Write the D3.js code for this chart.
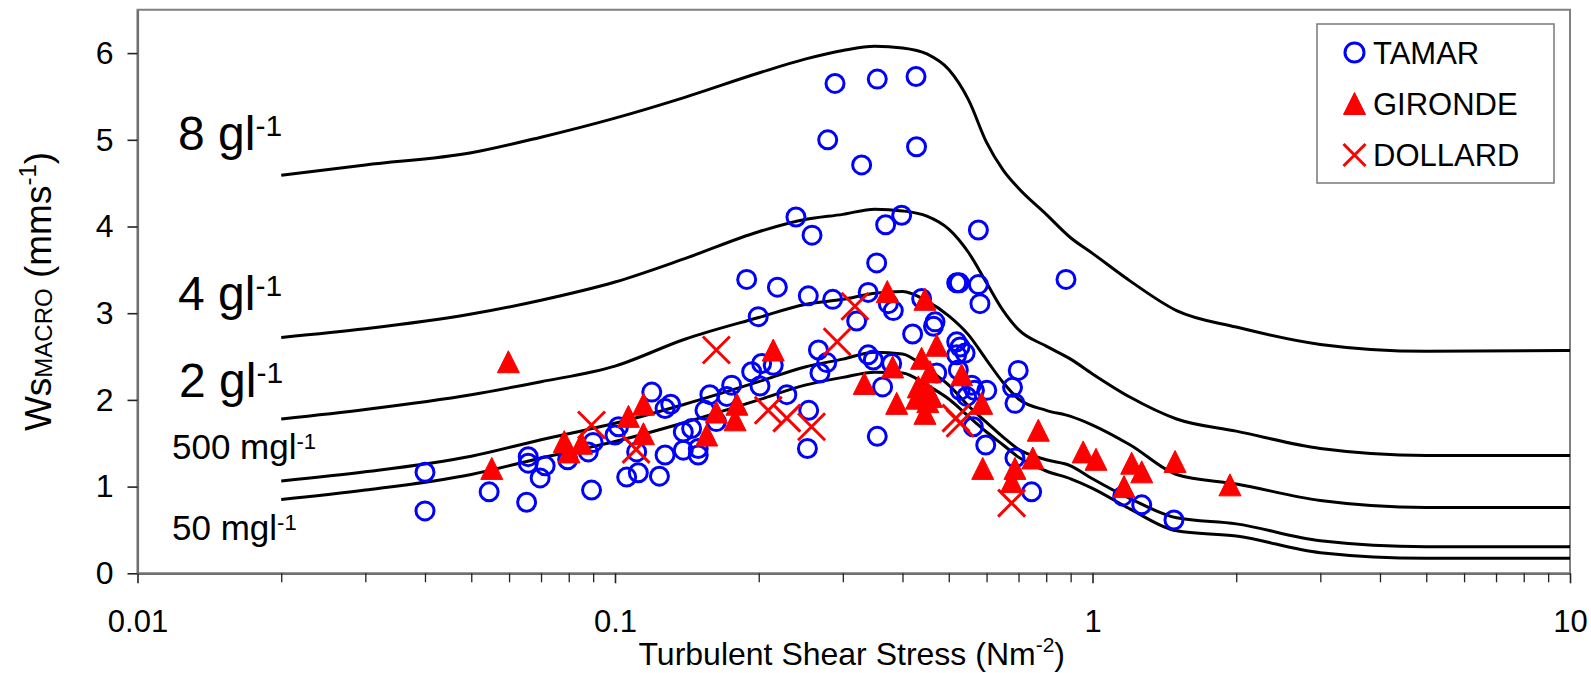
<!DOCTYPE html>
<html><head><meta charset="utf-8">
<script src="https://cdn.jsdelivr.net/npm/d3@7"></script>
<style>
body{margin:0;background:#fff}
svg{display:block}
text{font-family:"Liberation Sans",Arial,sans-serif}
</style>
</head><body>
<svg id="c" width="1591" height="673"></svg>
<script>
// ---------------- DATA ----------------
const xTickValues = [0.01, 0.1, 1, 10];
const xTickLabels = ["0.01", "0.1", "1", "10"];
const yTickValues = [0, 1, 2, 3, 4, 5, 6];
const yTickLabels = ["0", "1", "2", "3", "4", "5", "6"];

// model curves (settling velocity vs shear stress for given concentrations)
const curveX = [0.02,0.03,0.05,0.07,0.1,0.14,0.2,0.25,0.3,0.35,0.4,0.45,0.5,0.55,0.6,0.65,0.7,0.8,0.9,1.0,1.2,1.5,2,3,5,10];
const curve8g   = [4.59,4.71,4.85,5.03,5.25,5.49,5.77,5.93,6.03,6.08,6.06,5.99,5.81,5.46,4.97,4.65,4.44,4.14,3.87,3.69,3.37,3.03,2.84,2.64,2.56,2.57];
const curve4g   = [2.72,2.82,2.99,3.15,3.36,3.63,3.94,4.08,4.14,4.20,4.18,4.12,3.97,3.70,3.35,3.03,2.81,2.62,2.47,2.30,2.03,1.78,1.64,1.44,1.36,1.36];
const curve2g   = [1.78,1.89,2.06,2.21,2.39,2.70,2.95,3.10,3.16,3.23,3.25,3.14,2.97,2.75,2.46,2.20,2.01,1.88,1.81,1.71,1.48,1.14,1.03,0.84,0.76,0.76];
const curve500m = [1.065,1.17,1.35,1.54,1.73,1.95,2.21,2.38,2.47,2.55,2.53,2.36,2.17,1.93,1.74,1.57,1.43,1.31,1.24,1.09,0.86,0.64,0.57,0.376,0.307,0.307];
const curve50m  = [0.85,0.96,1.14,1.33,1.52,1.74,2.00,2.17,2.26,2.32,2.31,2.17,2.01,1.81,1.63,1.48,1.34,1.18,1.09,0.98,0.74,0.49,0.43,0.238,0.173,0.173];
const curveNames = ["8 gl", "4 gl", "2 gl", "500 mgl", "50 mgl"];

// observations
const tamarX = [0.040,0.040,0.0545,0.0653,0.0658,0.0658,0.0714,0.0697,0.0796,0.0879,0.0893,0.090,0.100,0.1017,0.1058,0.1119,0.111,0.1239,0.1194,0.1273,0.1308,0.1273,0.139,0.139,0.1447,0.1494,0.1494,0.1543,0.158,0.163,0.1714,0.1755,0.1933,0.2028,0.2145,0.2012,0.1995,0.1887,0.2188,0.229,0.254,0.2857,0.339,0.3736,0.3827,0.4387,0.3207,0.5195,0.526,0.5768,0.5811,0.88,0.468,0.4645,0.420,0.2667,0.2776,0.2687,0.339,0.3475,0.3797,0.3634,0.3542,0.2545,0.2529,0.5195,0.528,0.541,0.5195,0.4718,0.5236,0.528,0.5585,0.566,0.6006,0.545,0.5627,0.5976,0.699,0.68,0.688,0.688,0.7456,1.157,1.268,1.481,0.2889,0.3542,0.427,0.2789,0.3285,0.428,0.2393,0.2586,0.3688,0.3984,0.5768,0.3532];
const tamarY = [1.165,0.72,0.94,0.82,1.345,1.27,1.24,1.10,1.31,1.40,0.96,1.51,1.595,1.69,1.11,1.16,1.40,1.12,2.09,1.90,1.95,1.365,1.42,1.63,1.67,1.365,1.44,1.88,2.06,1.75,2.04,2.17,2.325,2.42,2.40,2.16,2.96,3.39,3.30,2.06,3.20,3.16,3.24,3.11,3.03,3.17,2.91,3.35,3.35,3.33,3.11,3.39,2.90,2.85,2.76,2.575,2.43,2.31,2.52,2.46,2.42,2.15,1.58,1.88,1.44,2.67,2.61,2.54,2.52,2.31,2.345,2.11,2.17,2.11,2.11,2.04,1.69,1.48,2.34,2.145,1.96,1.33,0.94,0.89,0.79,0.615,5.65,5.70,5.73,5.00,4.71,4.92,4.11,3.90,4.02,4.13,3.96,3.58];

const girondeX = [0.0598,0.0552,0.0783,0.0801,0.0851,0.1067,0.1147,0.1147,0.163,0.180,0.1784,0.1556,0.2145,0.3717,0.4458,0.4718,0.4387,0.3815,0.4567,0.532,0.3327,0.4317,0.4495,0.46,0.4282,0.452,0.389,0.4458,0.586,0.77,0.589,0.688,0.75,0.677,0.956,1.017,1.208,1.268,1.164,1.489,1.94];
const girondeY = [2.44,1.21,1.52,1.40,1.50,1.81,1.95,1.61,1.86,1.95,1.77,1.595,2.575,3.25,3.16,2.63,2.48,2.38,2.325,2.29,2.19,2.15,2.11,2.04,2.02,1.98,1.96,1.845,1.96,1.65,1.21,1.21,1.33,1.06,1.40,1.315,1.27,1.17,1.00,1.29,1.02];

const dollardX = [0.0893,0.1107,0.163,0.2094,0.229,0.318,0.292,0.258,0.5177,0.528,0.677];
const dollardY = [1.71,1.43,2.575,1.88,1.79,3.08,2.67,1.69,1.79,1.73,0.81];

const seriesNames = ["TAMAR", "GIRONDE", "DOLLARD"];

// ---------------- LAYOUT ----------------
const FONT = '"Liberation Sans", Arial, sans-serif';
const PL = 137.5, PR = 1570, PT = 9.75, PB = 573.3;
const x = d3.scaleLog().domain([0.01, 10]).range([PL, PR]);
const y = d3.scaleLinear().domain([0, 6.5]).range([PB, PT]);
const svg = d3.select("#c");

svg.append("rect").attr("width", 1591).attr("height", 673).attr("fill", "#fff");

// plot frame
svg.append("rect")
  .attr("x", PL).attr("y", PT)
  .attr("width", PR - PL).attr("height", PB - PT)
  .attr("fill", "none").attr("stroke", "#808080").attr("stroke-width", 2);

// x axis (major)
const gx = svg.append("g").attr("transform", `translate(0,${PB})`)
  .call(d3.axisBottom(x).tickValues(xTickValues)
    .tickFormat((d, i) => xTickLabels[i]).tickSize(10).tickSizeOuter(0).tickPadding(27));
gx.attr("font-family", FONT).attr("font-size", 31);
gx.select(".domain").attr("stroke", "#707070").attr("stroke-width", 2.2);
gx.selectAll(".tick line").attr("stroke", "#222").attr("stroke-width", 1.6);
gx.selectAll(".tick text").attr("fill", "#000");

// x axis minor ticks
const minor = [];
xTickValues.slice(0, 3).forEach(d => { for (let k = 2; k < 10; k++) minor.push(d * k); });
const gxm = svg.append("g").attr("transform", `translate(0,${PB})`)
  .call(d3.axisBottom(x).tickValues(minor).tickFormat("").tickSize(9).tickSizeOuter(0));
gxm.select(".domain").remove();
gxm.selectAll(".tick line").attr("stroke", "#222").attr("stroke-width", 1.3);

// y axis
const gy = svg.append("g").attr("transform", `translate(${PL},0)`)
  .call(d3.axisLeft(y).tickValues(yTickValues)
    .tickFormat((d, i) => yTickLabels[i]).tickSize(10).tickSizeOuter(0).tickPadding(14));
gy.attr("font-family", FONT).attr("font-size", 32);
gy.select(".domain").attr("stroke", "#707070").attr("stroke-width", 2.2);
gy.selectAll(".tick line").attr("stroke", "#222").attr("stroke-width", 1.6);
gy.selectAll(".tick text").attr("fill", "#000");

// axis titles
const xt = svg.append("text").attr("x", (PL + PR) / 2 - 2).attr("y", 665)
  .attr("text-anchor", "middle").attr("font-size", 32).attr("fill", "#000");
xt.append("tspan").text("Turbulent Shear Stress (Nm");
xt.append("tspan").attr("font-size", 21).attr("dy", -13).text("-2");
xt.append("tspan").attr("dy", 13).text(")");

const yt = svg.append("text")
  .attr("transform", `translate(51,${(PT + PB) / 2}) rotate(-90)`)
  .attr("text-anchor", "middle").attr("font-size", 37).attr("fill", "#000");
yt.append("tspan").text("Ws");
yt.append("tspan").attr("font-size", 24).attr("dy", 1).text("MACRO");
yt.append("tspan").attr("dy", -1).text(" (mms");
yt.append("tspan").attr("font-size", 24).attr("dy", -15).text("-1");
yt.append("tspan").attr("dy", 15).text(")");

// ---------------- CURVES ----------------
const line = d3.line().x(d => x(d[0])).y(d => y(d[1])).curve(d3.curveMonotoneX);
const curves = [curve8g, curve4g, curve2g, curve500m, curve50m];
curves.forEach(c => {
  svg.append("path").datum(curveX.map((v, i) => [v, c[i]]))
    .attr("d", line).attr("fill", "none")
    .attr("stroke", "#000").attr("stroke-width", 3).attr("stroke-linejoin", "round");
});

// curve labels
const labelPos = [[178, 150, 48], [178, 310, 48], [179, 397, 48], [172, 459, 35], [172, 540, 35]];
curveNames.forEach((n, i) => {
  const [lx, ly, fs] = labelPos[i];
  const t = svg.append("text").attr("x", lx).attr("y", ly).attr("font-size", fs).attr("fill", "#000");
  t.append("tspan").text(n);
  t.append("tspan").attr("font-size", Math.round(fs * 0.62)).attr("dy", -Math.round(fs * 0.29)).text("-1");
});

// ---------------- MARKERS ----------------
function circleMark(g, cx, cy, r) {
  g.append("circle").attr("cx", cx).attr("cy", cy).attr("r", r)
    .attr("fill", "none").attr("stroke", "#0000ff").attr("stroke-width", 3);
}
function triMark(g, cx, cy, h) {
  g.append("path").attr("d", `M${cx},${cy - h}L${cx + h},${cy + h}L${cx - h},${cy + h}Z`)
    .attr("fill", "#ff0000").attr("stroke", "#ff0000").attr("stroke-width", 1).attr("stroke-linejoin", "round");
}
function crossMark(g, cx, cy, h) {
  g.append("path").attr("d", `M${cx - h},${cy - h}L${cx + h},${cy + h}M${cx - h},${cy + h}L${cx + h},${cy - h}`)
    .attr("fill", "none").attr("stroke", "#ff0000").attr("stroke-width", 3);
}

const gm = svg.append("g");
tamarX.forEach((v, i) => circleMark(gm, x(v), y(tamarY[i]), 9));
girondeX.forEach((v, i) => triMark(gm, x(v), y(girondeY[i]), 11));
dollardX.forEach((v, i) => crossMark(gm, x(v), y(dollardY[i]), 13.5));

// ---------------- LEGEND ----------------
const lg = svg.append("g");
lg.append("rect").attr("x", 1317).attr("y", 24).attr("width", 237).attr("height", 159)
  .attr("fill", "#fff").attr("stroke", "#808080").attr("stroke-width", 1.6);
const legY = [52.5, 103.5, 155];
circleMark(lg, 1354.5, legY[0], 9.5);
triMark(lg, 1354.5, legY[1], 11);
crossMark(lg, 1354.5, legY[2], 11);
seriesNames.forEach((n, i) => {
  lg.append("text").attr("x", 1373).attr("y", legY[i] + 11).attr("font-size", 31)
    .attr("fill", "#000").text(n);
});
</script>
</body></html>
